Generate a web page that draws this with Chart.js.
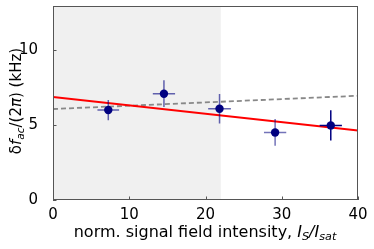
<!DOCTYPE html>
<html><head><meta charset="utf-8">
<script src="https://cdn.jsdelivr.net/npm/chart.js@4"></script>
<style>html,body{margin:0;padding:0;background:#fff}#wrap{width:374px;height:249px}</style>
</head><body><div id="wrap"><canvas id="c"></canvas></div>
<script>
const xVals = [7.25, 14.55, 21.84, 29.13, 36.43];
const yVals = [5.98, 7.07, 6.07, 4.49, 4.96];
const xErr = [1.42, 1.46, 1.49, 1.46, 1.46];
const yErr = [0.67, 0.89, 0.98, 0.89, 1.01];
const errAlpha = [0.6, 0.6, 0.6, 0.55, 1.0];
const fitRedX = [0, 40];
const fitRedY = [6.85, 4.62];
const fitGrayX = [0, 40];
const fitGrayY = [6.05, 6.93];
const shadeRange = [0, 22];
const xTicks = [0, 10, 20, 30, 40];
const yTicks = [0, 5, 10];

const FONT = "'DejaVu Sans', sans-serif";

const custom = {
  id: 'custom',
  beforeDatasetsDraw(chart) {
    const {ctx, chartArea: a, scales: {x, y}} = chart;
    ctx.save();
    ctx.fillStyle = '#f0f0f0';
    const x0 = x.getPixelForValue(shadeRange[0]), x1 = x.getPixelForValue(shadeRange[1]);
    ctx.fillRect(x0, a.top, x1 - x0, a.bottom - a.top);
    ctx.restore();
  },
  afterDatasetsDraw(chart) {
    const {ctx, chartArea: a, scales: {x, y}} = chart;
    ctx.save();
    ctx.lineWidth = 1.5;
    for (let i = 0; i < xVals.length; i++) {
      const px = x.getPixelForValue(xVals[i]), py = y.getPixelForValue(yVals[i]);
      ctx.strokeStyle = `rgba(0,0,128,${errAlpha[i]})`;
      ctx.beginPath();
      ctx.moveTo(x.getPixelForValue(xVals[i] - xErr[i]), py);
      ctx.lineTo(x.getPixelForValue(xVals[i] + xErr[i]), py);
      ctx.moveTo(px, y.getPixelForValue(yVals[i] - yErr[i]));
      ctx.lineTo(px, y.getPixelForValue(yVals[i] + yErr[i]));
      ctx.stroke();
    }
    ctx.restore();
  },
  afterDraw(chart) {
    const {ctx, chartArea: a, scales: {x, y}} = chart;
    ctx.save();
    ctx.strokeStyle = '#555';
    ctx.lineWidth = 1;
    ctx.strokeRect(a.left + 0.5, a.top + 0.5, a.right - a.left - 1, a.bottom - a.top - 1);
    ctx.beginPath();
    xTicks.forEach(v => { const p = Math.round(x.getPixelForValue(v)) + 0.5; ctx.moveTo(p, a.bottom); ctx.lineTo(p, a.bottom - 3.5); });
    yTicks.forEach(v => { const p = Math.round(y.getPixelForValue(v)) + 0.5; ctx.moveTo(a.left, p); ctx.lineTo(a.left + 3.5, p); });
    ctx.stroke();
    ctx.fillStyle = '#000';
    const size = 16;
    const parts = [
      {t: 'norm. signal field intensity, ', f: `${size}px ${FONT}`, dy: 0},
      {t: 'I', f: `italic ${size}px ${FONT}`, dy: 0},
      {t: 'S', f: `italic ${size*0.7}px ${FONT}`, dy: 3},
      {t: '/', f: `italic ${size}px ${FONT}`, dy: 0},
      {t: 'I', f: `italic ${size}px ${FONT}`, dy: 0},
      {t: 'sat', f: `italic ${size*0.7}px ${FONT}`, dy: 3}
    ];
    let w = 0;
    parts.forEach(p => { ctx.font = p.f; w += ctx.measureText(p.t).width; });
    let cx = 205 - w / 2;
    const by = 237;
    ctx.textBaseline = 'alphabetic';
    ctx.textAlign = 'left';
    parts.forEach(p => { ctx.font = p.f; ctx.fillText(p.t, cx, by + p.dy); cx += ctx.measureText(p.t).width; });
    const ys = 15;
    const yparts = [
      {t: 'δ', f: `${ys}px ${FONT}`, dy: 0},
      {t: 'f', f: `italic ${ys}px ${FONT}`, dy: 0},
      {t: 'ac', f: `italic ${ys*0.7}px ${FONT}`, dy: 3},
      {t: '/(2', f: `${ys}px ${FONT}`, dy: 0},
      {t: 'π', f: `italic ${ys}px ${FONT}`, dy: 0},
      {t: ') (kHz)', f: `${ys}px ${FONT}`, dy: 0}
    ];
    let yw = 0;
    yparts.forEach(p => { ctx.font = p.f; yw += ctx.measureText(p.t).width; });
    ctx.translate(21, 101);
    ctx.rotate(-Math.PI / 2);
    let cy = -yw / 2;
    yparts.forEach(p => { ctx.font = p.f; ctx.fillText(p.t, cy, p.dy); cy += ctx.measureText(p.t).width; });
    ctx.restore();
  }
};

new Chart(document.getElementById('c'), {
  type: 'scatter',
  data: {
    datasets: [
      {type: 'line', data: fitGrayX.map((v, i) => ({x: v, y: fitGrayY[i]})), borderColor: '#888', borderWidth: 1.8, borderDash: [5, 3], pointRadius: 0, order: 2},
      {type: 'line', data: fitRedX.map((v, i) => ({x: v, y: fitRedY[i]})), borderColor: '#ff0000', borderWidth: 1.8, pointRadius: 0, order: 1},
      {data: xVals.map((v, i) => ({x: v, y: yVals[i]})), backgroundColor: '#000080', borderColor: '#000080', pointRadius: 4.2, borderWidth: 0, order: 0}
    ]
  },
  options: {
    responsive: true, maintainAspectRatio: false, animation: false,
    layout: {padding: {top: 6, right: 16, left: 0, bottom: 0}},
    plugins: {legend: {display: false}, tooltip: {enabled: false}},
    scales: {
      x: {type: 'linear', min: 0, max: 40,
        afterBuildTicks: s => { s.ticks = xTicks.map(v => ({value: v})); },
        afterFit: s => { s.height = 49; s.paddingLeft = 0; s.paddingRight = 0; },
        grid: {display: false}, border: {display: false},
        ticks: {font: {family: FONT, size: 15}, color: '#000', padding: -2, maxRotation: 0}},
      y: {type: 'linear', min: 0, max: 12.9,
        afterBuildTicks: s => { s.ticks = yTicks.map(v => ({value: v})); },
        afterFit: s => { s.width = 53; s.paddingTop = 0; s.paddingBottom = 0; },
        grid: {display: false}, border: {display: false},
        ticks: {font: {family: FONT, size: 15}, color: '#000', padding: 7}}
    }
  },
  plugins: [custom]
});
</script></body></html>
